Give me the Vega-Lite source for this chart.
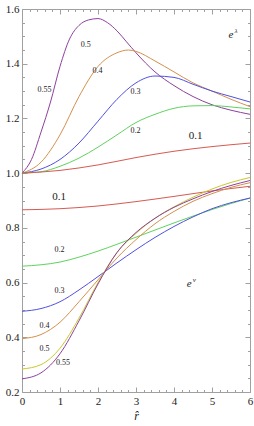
{
  "$schema": "https://vega.github.io/schema/vega-lite/v6.json",
  "width": 228,
  "height": 383,
  "autosize": "none",
  "padding": {"left": 22, "top": 9, "right": 4, "bottom": 34},
  "background": "white",
  "config": {"view": {"stroke": null}, "font": "Liberation Serif"},
  "datasets": {
    "curves": [
      {"f":"lam","c":"0.55","x":0,"y":1.0},{"f":"lam","c":"0.55","x":0.25,"y":1.05},{"f":"lam","c":"0.55","x":0.5,"y":1.15},{"f":"lam","c":"0.55","x":0.75,"y":1.26},{"f":"lam","c":"0.55","x":1.0,"y":1.39},{"f":"lam","c":"0.55","x":1.25,"y":1.49},{"f":"lam","c":"0.55","x":1.5,"y":1.54},{"f":"lam","c":"0.55","x":1.75,"y":1.56},{"f":"lam","c":"0.55","x":2.0,"y":1.565},{"f":"lam","c":"0.55","x":2.25,"y":1.55},{"f":"lam","c":"0.55","x":2.5,"y":1.52},{"f":"lam","c":"0.55","x":2.75,"y":1.48},{"f":"lam","c":"0.55","x":3.0,"y":1.44},{"f":"lam","c":"0.55","x":3.5,"y":1.37},{"f":"lam","c":"0.55","x":4.0,"y":1.32},{"f":"lam","c":"0.55","x":4.5,"y":1.28},{"f":"lam","c":"0.55","x":5.0,"y":1.25},{"f":"lam","c":"0.55","x":5.5,"y":1.23},{"f":"lam","c":"0.55","x":6.0,"y":1.215},
      {"f":"lam","c":"0.4","x":0,"y":1.0},{"f":"lam","c":"0.4","x":0.5,"y":1.04},{"f":"lam","c":"0.4","x":1.0,"y":1.14},{"f":"lam","c":"0.4","x":1.5,"y":1.28},{"f":"lam","c":"0.4","x":2.0,"y":1.39},{"f":"lam","c":"0.4","x":2.5,"y":1.44},{"f":"lam","c":"0.4","x":2.8,"y":1.45},{"f":"lam","c":"0.4","x":3.0,"y":1.445},{"f":"lam","c":"0.4","x":3.5,"y":1.41},{"f":"lam","c":"0.4","x":4.0,"y":1.37},{"f":"lam","c":"0.4","x":4.5,"y":1.33},{"f":"lam","c":"0.4","x":5.0,"y":1.30},{"f":"lam","c":"0.4","x":5.5,"y":1.27},{"f":"lam","c":"0.4","x":6.0,"y":1.243},
      {"f":"lam","c":"0.3","x":0,"y":1.0},{"f":"lam","c":"0.3","x":0.5,"y":1.015},{"f":"lam","c":"0.3","x":1.0,"y":1.05},{"f":"lam","c":"0.3","x":1.5,"y":1.11},{"f":"lam","c":"0.3","x":2.0,"y":1.19},{"f":"lam","c":"0.3","x":2.5,"y":1.27},{"f":"lam","c":"0.3","x":3.0,"y":1.33},{"f":"lam","c":"0.3","x":3.5,"y":1.355},{"f":"lam","c":"0.3","x":4.0,"y":1.35},{"f":"lam","c":"0.3","x":4.5,"y":1.325},{"f":"lam","c":"0.3","x":5.0,"y":1.30},{"f":"lam","c":"0.3","x":5.5,"y":1.28},{"f":"lam","c":"0.3","x":6.0,"y":1.26},
      {"f":"lam","c":"0.2","x":0,"y":1.0},{"f":"lam","c":"0.2","x":0.5,"y":1.005},{"f":"lam","c":"0.2","x":1.0,"y":1.025},{"f":"lam","c":"0.2","x":1.5,"y":1.055},{"f":"lam","c":"0.2","x":2.0,"y":1.095},{"f":"lam","c":"0.2","x":2.5,"y":1.14},{"f":"lam","c":"0.2","x":3.0,"y":1.185},{"f":"lam","c":"0.2","x":3.5,"y":1.215},{"f":"lam","c":"0.2","x":4.0,"y":1.237},{"f":"lam","c":"0.2","x":4.5,"y":1.246},{"f":"lam","c":"0.2","x":5.0,"y":1.247},{"f":"lam","c":"0.2","x":5.5,"y":1.242},{"f":"lam","c":"0.2","x":6.0,"y":1.235},
      {"f":"lam","c":"0.1","x":0,"y":1.0},{"f":"lam","c":"0.1","x":1.0,"y":1.01},{"f":"lam","c":"0.1","x":2.0,"y":1.03},{"f":"lam","c":"0.1","x":3.0,"y":1.057},{"f":"lam","c":"0.1","x":4.0,"y":1.08},{"f":"lam","c":"0.1","x":5.0,"y":1.097},{"f":"lam","c":"0.1","x":6.0,"y":1.11},
      {"f":"nu","c":"0.1","x":0,"y":0.866},{"f":"nu","c":"0.1","x":1.0,"y":0.87},{"f":"nu","c":"0.1","x":2.0,"y":0.88},{"f":"nu","c":"0.1","x":3.0,"y":0.896},{"f":"nu","c":"0.1","x":4.0,"y":0.915},{"f":"nu","c":"0.1","x":5.0,"y":0.935},{"f":"nu","c":"0.1","x":6.0,"y":0.952},
      {"f":"nu","c":"0.2","x":0,"y":0.66},{"f":"nu","c":"0.2","x":0.5,"y":0.665},{"f":"nu","c":"0.2","x":1.0,"y":0.675},{"f":"nu","c":"0.2","x":1.5,"y":0.693},{"f":"nu","c":"0.2","x":2.0,"y":0.715},{"f":"nu","c":"0.2","x":2.5,"y":0.74},{"f":"nu","c":"0.2","x":3.0,"y":0.766},{"f":"nu","c":"0.2","x":3.5,"y":0.792},{"f":"nu","c":"0.2","x":4.0,"y":0.818},{"f":"nu","c":"0.2","x":4.5,"y":0.843},{"f":"nu","c":"0.2","x":5.0,"y":0.867},{"f":"nu","c":"0.2","x":5.5,"y":0.889},{"f":"nu","c":"0.2","x":6.0,"y":0.909},
      {"f":"nu","c":"0.3","x":0,"y":0.495},{"f":"nu","c":"0.3","x":0.5,"y":0.505},{"f":"nu","c":"0.3","x":1.0,"y":0.53},{"f":"nu","c":"0.3","x":1.5,"y":0.573},{"f":"nu","c":"0.3","x":2.0,"y":0.622},{"f":"nu","c":"0.3","x":2.5,"y":0.672},{"f":"nu","c":"0.3","x":3.0,"y":0.72},{"f":"nu","c":"0.3","x":3.5,"y":0.765},{"f":"nu","c":"0.3","x":4.0,"y":0.805},{"f":"nu","c":"0.3","x":4.5,"y":0.84},{"f":"nu","c":"0.3","x":5.0,"y":0.87},{"f":"nu","c":"0.3","x":5.5,"y":0.892},{"f":"nu","c":"0.3","x":6.0,"y":0.909},
      {"f":"nu","c":"0.4","x":0,"y":0.395},{"f":"nu","c":"0.4","x":0.5,"y":0.41},{"f":"nu","c":"0.4","x":1.0,"y":0.455},{"f":"nu","c":"0.4","x":1.5,"y":0.53},{"f":"nu","c":"0.4","x":2.0,"y":0.61},{"f":"nu","c":"0.4","x":2.5,"y":0.69},{"f":"nu","c":"0.4","x":3.0,"y":0.757},{"f":"nu","c":"0.4","x":3.5,"y":0.815},{"f":"nu","c":"0.4","x":4.0,"y":0.86},{"f":"nu","c":"0.4","x":4.5,"y":0.897},{"f":"nu","c":"0.4","x":5.0,"y":0.925},{"f":"nu","c":"0.4","x":5.5,"y":0.948},{"f":"nu","c":"0.4","x":6.0,"y":0.965},
      {"f":"nu","c":"0.5","x":0,"y":0.284},{"f":"nu","c":"0.5","x":0.5,"y":0.30},{"f":"nu","c":"0.5","x":1.0,"y":0.36},{"f":"nu","c":"0.5","x":1.5,"y":0.47},{"f":"nu","c":"0.5","x":2.0,"y":0.60},{"f":"nu","c":"0.5","x":2.5,"y":0.71},{"f":"nu","c":"0.5","x":3.0,"y":0.78},{"f":"nu","c":"0.5","x":3.5,"y":0.835},{"f":"nu","c":"0.5","x":4.0,"y":0.877},{"f":"nu","c":"0.5","x":4.5,"y":0.912},{"f":"nu","c":"0.5","x":5.0,"y":0.942},{"f":"nu","c":"0.5","x":5.5,"y":0.966},{"f":"nu","c":"0.5","x":6.0,"y":0.984},
      {"f":"nu","c":"0.55","x":0,"y":0.248},{"f":"nu","c":"0.55","x":0.5,"y":0.27},{"f":"nu","c":"0.55","x":1.0,"y":0.34},{"f":"nu","c":"0.55","x":1.5,"y":0.46},{"f":"nu","c":"0.55","x":2.0,"y":0.595},{"f":"nu","c":"0.55","x":2.5,"y":0.71},{"f":"nu","c":"0.55","x":3.0,"y":0.783},{"f":"nu","c":"0.55","x":3.5,"y":0.835},{"f":"nu","c":"0.55","x":4.0,"y":0.875},{"f":"nu","c":"0.55","x":4.5,"y":0.906},{"f":"nu","c":"0.55","x":5.0,"y":0.933},{"f":"nu","c":"0.55","x":5.5,"y":0.955},{"f":"nu","c":"0.55","x":6.0,"y":0.973}
    ],
    "small": [
      {"t":"0.5","x":1.68,"y":1.47},{"t":"0.4","x":1.99,"y":1.375},{"t":"0.55","x":0.59,"y":1.304},{"t":"0.3","x":2.99,"y":1.298},{"t":"0.2","x":2.99,"y":1.154},
      {"t":"0.2","x":0.99,"y":0.72},{"t":"0.3","x":0.99,"y":0.568},{"t":"0.4","x":0.59,"y":0.443},{"t":"0.5","x":0.59,"y":0.357},{"t":"0.55","x":1.08,"y":0.306}
    ],
    "big": [
      {"t":"0.1","x":4.57,"y":1.137},{"t":"0.1","x":0.98,"y":0.914}
    ],
    "sym": [
      {"base":"e","sup":"λ","x":5.5,"y":1.505},{"base":"e","sup":"ν","x":4.4,"y":0.595}
    ]
  },
  "resolve": {"axis": {"x": "independent", "y": "independent"}},
  "layer": [
    {
      "data": {"name": "curves"},
      "mark": {"type": "line", "strokeWidth": 1, "interpolate": "monotone"},
      "encoding": {
        "x": {"field": "x", "type": "quantitative", "scale": {"domain": [0, 6], "nice": false, "zero": false},
          "axis": {"title": "r\u0302", "titleFont": "Liberation Serif", "titleFontStyle": "italic", "titleFontWeight": "normal", "titleFontSize": 12, "titleColor": "#222", "titlePadding": 4,
            "values": [0,0.2,0.4,0.6,0.8,1,1.2,1.4,1.6,1.8,2,2.2,2.4,2.6,2.8,3,3.2,3.4,3.6,3.8,4,4.2,4.4,4.6,4.8,5,5.2,5.4,5.6,5.8,6],
            "labelExpr": "abs(datum.value - round(datum.value)) < 0.001 ? format(datum.value, 'd') : ''",
            "tickSize": {"condition": {"test": "abs(datum.value - round(datum.value)) < 0.001", "value": -5}, "value": -2.5},
            "labelPadding": 8, "labelFont": "Liberation Serif", "labelFontSize": 11, "labelColor": "#222", "labelFlush": false,
            "grid": false, "domainColor": "#a0a0a0", "tickColor": "#a0a0a0", "domainWidth": 1}},
        "y": {"field": "y", "type": "quantitative", "scale": {"domain": [0.2, 1.6], "nice": false, "zero": false},
          "axis": {"title": null,
            "values": [0.2,0.25,0.3,0.35,0.4,0.45,0.5,0.55,0.6,0.65,0.7,0.75,0.8,0.85,0.9,0.95,1.0,1.05,1.1,1.15,1.2,1.25,1.3,1.35,1.4,1.45,1.5,1.55,1.6],
            "labelExpr": "abs(datum.value*5 - round(datum.value*5)) < 0.001 ? format(datum.value, '.1f') : ''",
            "tickSize": {"condition": {"test": "abs(datum.value*5 - round(datum.value*5)) < 0.001", "value": -5}, "value": -2.5},
            "labelPadding": 8, "labelFont": "Liberation Serif", "labelFontSize": 11, "labelColor": "#222", "labelFlush": false,
            "grid": false, "domainColor": "#a0a0a0", "tickColor": "#a0a0a0", "domainWidth": 1}},
        "color": {"field": "c", "type": "nominal", "legend": null,
          "scale": {"domain": ["0.1","0.2","0.3","0.4","0.5","0.55"], "range": ["#d65a52","#5ed35e","#5050e0","#d4904c","#c8c82a","#8e409e"]}},
        "detail": {"field": "f"}
      }
    },
    {
      "data": {"name": "curves"},
      "mark": {"type": "point", "opacity": 0},
      "encoding": {
        "x": {"field": "x", "type": "quantitative", "scale": {"domain": [0, 6], "nice": false, "zero": false},
          "axis": {"orient": "top", "title": null, "labels": false,
            "values": [0,0.2,0.4,0.6,0.8,1,1.2,1.4,1.6,1.8,2,2.2,2.4,2.6,2.8,3,3.2,3.4,3.6,3.8,4,4.2,4.4,4.6,4.8,5,5.2,5.4,5.6,5.8,6],
            "tickSize": {"condition": {"test": "abs(datum.value - round(datum.value)) < 0.001", "value": -5}, "value": -2.5},
            "grid": false, "domainColor": "#a0a0a0", "tickColor": "#a0a0a0", "domainWidth": 1}},
        "y": {"field": "y", "type": "quantitative", "scale": {"domain": [0.2, 1.6], "nice": false, "zero": false},
          "axis": {"orient": "right", "title": null, "labels": false,
            "values": [0.2,0.25,0.3,0.35,0.4,0.45,0.5,0.55,0.6,0.65,0.7,0.75,0.8,0.85,0.9,0.95,1.0,1.05,1.1,1.15,1.2,1.25,1.3,1.35,1.4,1.45,1.5,1.55,1.6],
            "tickSize": {"condition": {"test": "abs(datum.value*5 - round(datum.value*5)) < 0.001", "value": -5}, "value": -2.5},
            "grid": false, "domainColor": "#a0a0a0", "tickColor": "#a0a0a0", "domainWidth": 1}}
      }
    },
    {
      "mark": {"type": "rule", "color": "#9a9a9a", "strokeWidth": 1.5},
      "encoding": {"y": {"datum": 1, "axis": null}}
    },
    {
      "data": {"name": "small"},
      "mark": {"type": "text", "font": "Liberation Serif", "fontSize": 8, "color": "#222"},
      "encoding": {"x": {"field": "x", "type": "quantitative", "axis": null}, "y": {"field": "y", "type": "quantitative", "axis": null}, "text": {"field": "t"}}
    },
    {
      "data": {"name": "big"},
      "mark": {"type": "text", "font": "Liberation Serif", "fontSize": 11, "color": "#222"},
      "encoding": {"x": {"field": "x", "type": "quantitative", "axis": null}, "y": {"field": "y", "type": "quantitative", "axis": null}, "text": {"field": "t"}}
    },
    {
      "data": {"name": "sym"},
      "mark": {"type": "text", "font": "Liberation Serif", "fontSize": 11, "fontStyle": "italic", "color": "#222"},
      "encoding": {"x": {"field": "x", "type": "quantitative", "axis": null}, "y": {"field": "y", "type": "quantitative", "axis": null}, "text": {"field": "base"}}
    },
    {
      "data": {"name": "sym"},
      "mark": {"type": "text", "font": "Liberation Serif", "fontSize": 7, "fontStyle": "italic", "color": "#222", "dx": 5, "dy": -4},
      "encoding": {"x": {"field": "x", "type": "quantitative", "axis": null}, "y": {"field": "y", "type": "quantitative", "axis": null}, "text": {"field": "sup"}}
    }
  ]
}
